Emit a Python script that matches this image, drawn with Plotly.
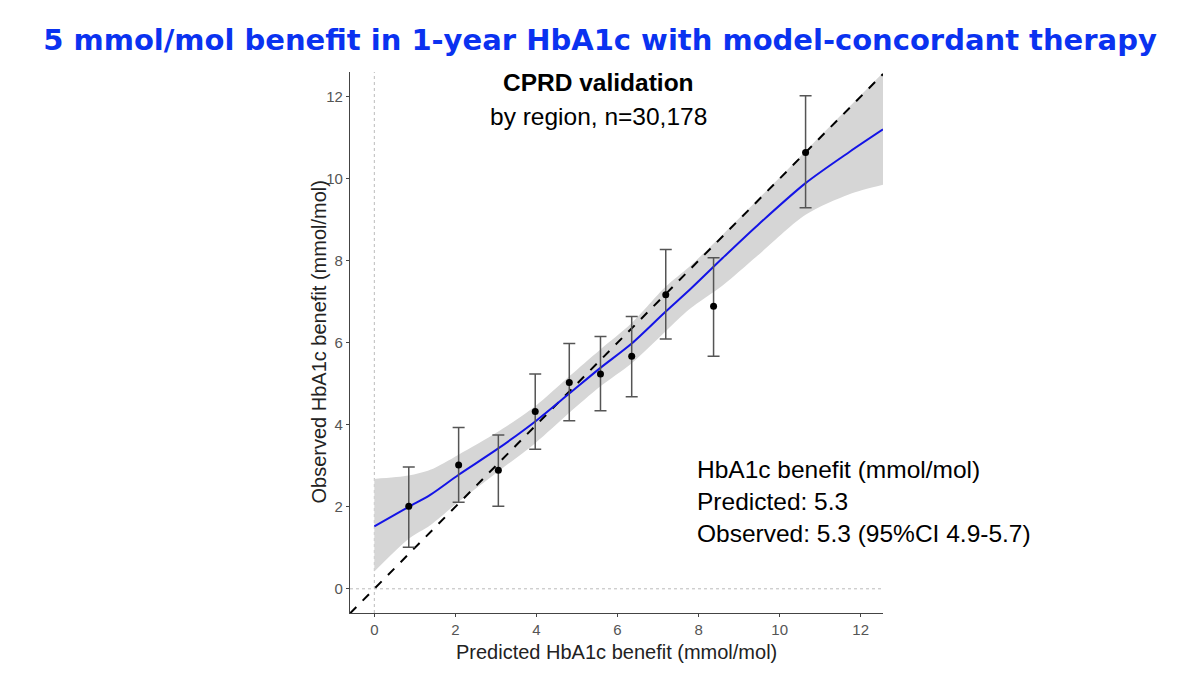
import plotly.graph_objects as go

# binned validation points (predicted vs observed, with 95% CI)
pred = [0.85, 2.08, 3.06, 3.97, 4.81, 5.58, 6.35, 7.19, 8.37, 10.64]
obs = [2.01, 3.02, 2.89, 4.32, 5.03, 5.24, 5.67, 7.17, 6.89, 10.64]
obs_hi = [2.97, 3.93, 3.75, 5.24, 5.98, 6.15, 6.64, 8.27, 8.07, 12.02]
obs_lo = [1.01, 2.11, 2.01, 3.40, 4.10, 4.34, 4.68, 6.09, 5.67, 9.29]

# smoothed fit with confidence band
fit_x = [0, 0.85, 1.38, 2.08, 3.04, 3.97, 4.81, 5.57, 6.35, 7.19, 7.78, 8.6, 9.43, 10.64, 11.72, 12.55]
fit_y = [1.52, 2.00, 2.29, 2.78, 3.41, 4.08, 4.76, 5.38, 5.98, 6.76, 7.29, 8.07, 8.84, 9.89, 10.65, 11.20]
fit_hi = [2.68, 2.76, 2.90, 3.27, 3.82, 4.45, 5.18, 5.83, 6.48, 7.37, 7.86, 8.64, 9.46, 10.67, 11.75, 12.58]
fit_lo = [0.42, 1.22, 1.55, 2.12, 2.85, 3.55, 4.29, 4.93, 5.50, 6.28, 6.82, 7.40, 8.10, 9.12, 9.62, 9.85]

identity = [-0.6, 12.55]
ticks = [0, 2, 4, 6, 8, 10, 12]

font = "Arial, Liberation Sans, sans-serif"

fig = go.Figure()

fig.add_trace(go.Scatter(x=fit_x, y=fit_lo, mode="lines", line=dict(width=0, shape="spline", smoothing=0.8),
                         hoverinfo="skip", showlegend=False))
fig.add_trace(go.Scatter(x=fit_x, y=fit_hi, mode="lines", line=dict(width=0, shape="spline", smoothing=0.8),
                         fill="tonexty", fillcolor="#d6d6d6", hoverinfo="skip", showlegend=False))

fig.add_trace(go.Scatter(x=identity, y=identity, mode="lines",
                         line=dict(color="black", width=2, dash="dash"), showlegend=False))

fig.add_trace(go.Scatter(x=fit_x, y=fit_y, mode="lines",
                         line=dict(color="#1414e6", width=2, shape="spline", smoothing=0.8), showlegend=False))

fig.add_trace(go.Scatter(
    x=pred, y=obs, mode="markers",
    marker=dict(color="black", size=7),
    error_y=dict(type="data", symmetric=False,
                 array=[h - o for h, o in zip(obs_hi, obs)],
                 arrayminus=[o - l for o, l in zip(obs, obs_lo)],
                 color="#555555", thickness=1.5, width=6),
    showlegend=False))

fig.add_vline(x=0, line=dict(color="#bbbbbb", width=1, dash="dot"), layer="below")
fig.add_hline(y=0, line=dict(color="#bbbbbb", width=1, dash="dot"), layer="below")

fig.add_annotation(x=5.54, y=12.34, text="<b>CPRD validation</b>", showarrow=False,
                   xanchor="center", yanchor="middle", font=dict(size=24.5, color="black"))
fig.add_annotation(x=5.54, y=11.51, text="by region, n=30,178", showarrow=False,
                   xanchor="center", yanchor="middle", font=dict(size=24.5, color="black"))

right_lines = ["HbA1c benefit (mmol/mol)", "Predicted: 5.3", "Observed: 5.3 (95%CI 4.9-5.7)"]
right_y = [2.90, 2.12, 1.34]
for txt, yy in zip(right_lines, right_y):
    fig.add_annotation(x=7.9, y=yy, text=txt, showarrow=False, xanchor="left",
                       yanchor="middle", font=dict(size=24.5, color="black"))

# axis titles placed as annotations so they sit where the reference has them
fig.add_annotation(xref="paper", yref="paper", x=0.5, y=0, yshift=-39,
                   text="Predicted HbA1c benefit (mmol/mol)", showarrow=False,
                   xanchor="center", yanchor="middle", font=dict(size=20, color="#222222"))
fig.add_annotation(xref="paper", yref="paper", x=0, y=0.5, xshift=-32, textangle=-90,
                   text="Observed HbA1c benefit (mmol/mol)", showarrow=False,
                   xanchor="center", yanchor="middle", font=dict(size=20, color="#222222"))

axis_common = dict(
    showgrid=False, zeroline=False, showline=True, linecolor="#444444", linewidth=1.3,
    ticks="outside", ticklen=3, tickcolor="#444444", tickvals=ticks,
    tickfont=dict(size=15, color="#555555"),
)

fig.update_xaxes(range=[-0.6, 12.55], **axis_common)
fig.update_yaxes(range=[-0.59, 12.6], **axis_common)

# page body has an 8px margin, so the figure is 16px smaller than the window
fig.update_layout(
    width=1184, height=659,
    margin=dict(l=342, r=309, t=64, b=54),
    plot_bgcolor="white", paper_bgcolor="white",
    font=dict(family=font),
    title=dict(text="<b>5 mmol/mol benefit in 1-year HbA1c with model-concordant therapy</b>",
               x=0.5, xanchor="center", y=1 - 32 / 659, yanchor="middle",
               font=dict(family="DejaVu Sans", size=29, color="#0a32f0")),
)

fig.write_html("out.html")
